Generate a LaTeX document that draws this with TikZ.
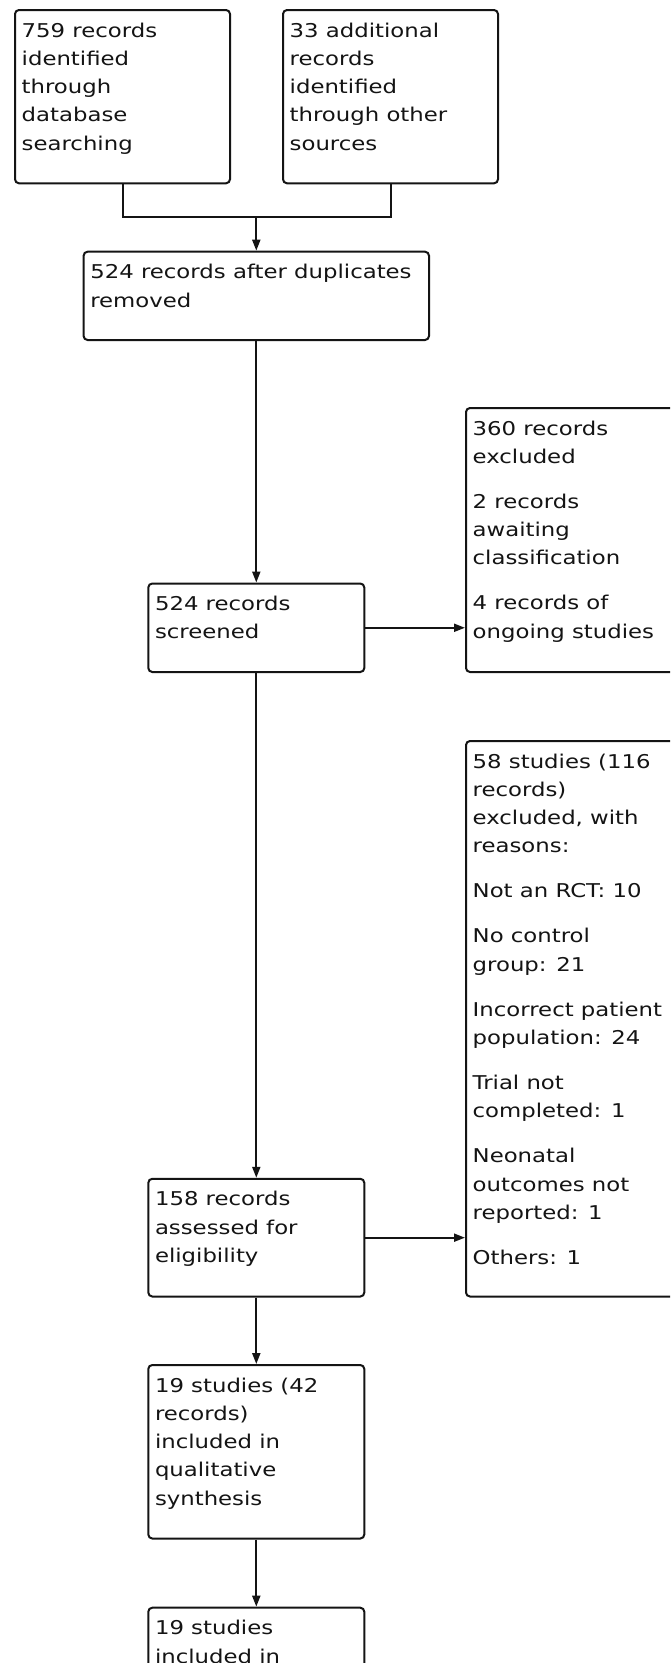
\documentclass[tikz,border=0pt]{standalone}
\usepackage{fontspec}
\setmainfont{DejaVu Sans}[FakeStretch=1.2]
\usetikzlibrary{arrows.meta}
\definecolor{ink}{RGB}{20,20,20}
\newcommand\bxlines[1]{\vtop{\baselineskip=28.3pt\lineskiplimit=-100pt\lineskip=0pt #1}}
\newcommand\pgap{\vskip16.7pt}
\begin{document}
\begin{tikzpicture}[x=1pt,y=-1pt,
  font=\fontsize{19}{28.3}\selectfont,
  bx/.style={draw=ink, line width=2pt, rounded corners=4pt, anchor=north west, inner sep=0pt},
  txt/.style={anchor=base west, inner sep=0pt, xshift=7.5pt, yshift=-28pt, text=ink},
  ln/.style={draw=ink, line width=2pt},
  arr/.style={ln, -{Triangle[length=11pt,width=8pt]}}]
\useasboundingbox (0,0) rectangle (670,1663);
\fill[white] (0,0) rectangle (670,1663);
\clip (0,0) rectangle (670,1663);
% boxes
\node[bx, minimum width=215pt, minimum height=173.3pt] (b1) at (14,9) {};
\node[bx, minimum width=215pt, minimum height=173.3pt] (b2) at (282,9) {};
\node[bx, minimum width=345.4pt, minimum height=88.3pt] (b3) at (82.6,250.7) {};
\node[bx, minimum width=216pt, minimum height=88.5pt] (b4) at (147.3,582.5) {};
\node[bx, minimum width=260pt, minimum height=264pt] (b5) at (465,407) {};
\node[bx, minimum width=216pt, minimum height=117.7pt] (b6) at (147.3,1177.8) {};
\node[bx, minimum width=260pt, minimum height=555.5pt] (b7) at (465,740) {};
\node[bx, minimum width=216pt, minimum height=173.5pt] (b8) at (147.3,1364) {};
\node[bx, minimum width=216pt, minimum height=173.5pt] (b9) at (147.3,1606.7) {};
% texts
\node[txt] (t1) at (b1.north west) {\bxlines{\hbox{759 records}\hbox{identified}\hbox{through}\hbox{database}\hbox{searching}}};
\node[txt] (t2) at (b2.north west) {\bxlines{\hbox{33 additional}\hbox{records}\hbox{identified}\hbox{through other}\hbox{sources}}};
\node[txt] (t3) at (b3.north west) {\bxlines{\hbox{524 records after duplicates}\hbox{removed}}};
\node[txt] (t4) at (b4.north west) {\bxlines{\hbox{524 records}\hbox{screened}}};
\node[txt] (t5) at (b5.north west) {\bxlines{\hbox{360 records}\hbox{excluded}\pgap\hbox{2 records}\hbox{awaiting}\hbox{classification}\pgap\hbox{4 records of}\hbox{ongoing studies}}};
\node[txt] (t6) at (b6.north west) {\bxlines{\hbox{158 records}\hbox{assessed for}\hbox{eligibility}}};
\node[txt] (t7) at (b7.north west) {\bxlines{\hbox{58 studies (116}\hbox{records)}\hbox{excluded, with}\hbox{reasons:}\pgap\hbox{Not an RCT: 10}\pgap\hbox{No control}\hbox{group: 21}\pgap\hbox{Incorrect patient}\hbox{population: 24}\pgap\hbox{Trial not}\hbox{completed: 1}\pgap\hbox{Neonatal}\hbox{outcomes not}\hbox{reported: 1}\pgap\hbox{Others: 1}}};
\node[txt] (t8) at (b8.north west) {\bxlines{\hbox{19 studies (42}\hbox{records)}\hbox{included in}\hbox{qualitative}\hbox{synthesis}}};
\node[txt] (t9) at (b9.north west) {\bxlines{\hbox{19 studies}\hbox{included in}}};
% connectors
\coordinate (m) at (b3.north |- 0,217.3);
\draw[ln] (b1.south) |- (m) -| (b2.south);
\draw[arr] (m) -- (b3.north);
\draw[arr] (b3.south) -- (b4.north);
\draw[arr] (b4.south) -- (b6.north);
\draw[arr] (b6.south) -- (b8.north);
\draw[arr] (b8.south) -- (b9.north);
\draw[arr] (b4.east) -- (b4.east -| b5.west);
\draw[arr] (b6.east) -- (b6.east -| b7.west);
\end{tikzpicture}
\end{document}
